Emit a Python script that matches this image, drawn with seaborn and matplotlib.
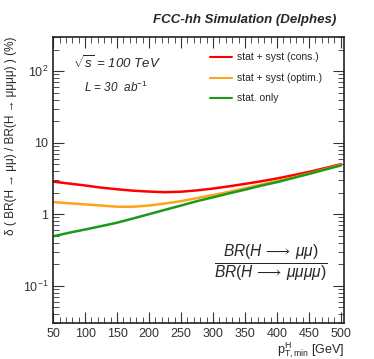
import matplotlib
matplotlib.use('Agg')
import matplotlib.pyplot as plt
import matplotlib.ticker as mticker
import seaborn as sns
import pandas as pd
import numpy as np

pt = [50, 75, 100, 125, 150, 175, 200, 225, 250, 275, 300, 325, 350, 375, 400, 425, 450, 475, 500]
cons = [2.85, 2.68, 2.52, 2.35, 2.23, 2.13, 2.07, 2.03, 2.06, 2.15, 2.28, 2.45, 2.65, 2.88, 3.15, 3.50, 3.90, 4.40, 5.00]
optim = [1.48, 1.42, 1.37, 1.32, 1.27, 1.27, 1.32, 1.41, 1.52, 1.68, 1.85, 2.05, 2.30, 2.58, 2.90, 3.25, 3.70, 4.25, 4.90]
stat = [0.49, 0.55, 0.61, 0.68, 0.76, 0.87, 1.00, 1.15, 1.32, 1.52, 1.72, 1.95, 2.20, 2.50, 2.80, 3.20, 3.65, 4.20, 4.80]
labels = ['stat + syst (cons.)', 'stat + syst (optim.)', 'stat. only']
colors = ['#ff0000', '#ffa31a', '#1a9a1a']

n = len(pt)
df = pd.DataFrame({'pt': pt * 3,
                   'val': cons + optim + stat,
                   'curve': [labels[0]] * n + [labels[1]] * n + [labels[2]] * n})

sns.set_style('ticks')
plt.rcParams['font.family'] = ['Liberation Sans', 'DejaVu Sans']
plt.rcParams['mathtext.fontset'] = 'custom'
plt.rcParams['mathtext.rm'] = 'Liberation Sans'
plt.rcParams['mathtext.it'] = 'Liberation Sans:italic'

fig = plt.figure(figsize=(3.74, 3.59), dpi=100)
ax = fig.add_axes([0.142, 0.100, 0.778, 0.797])

sns.lineplot(data=df, x='pt', y='val', hue='curve', palette=colors, lw=1.8, ax=ax, legend=False)
ax.set_yscale('log')
ax.set_xlim(50, 505)
ax.set_ylim(0.03, 300)

ax.xaxis.set_major_locator(mticker.MultipleLocator(50))
ax.xaxis.set_minor_locator(mticker.MultipleLocator(10))
ax.yaxis.set_major_locator(mticker.LogLocator(base=10, numticks=10))
ax.yaxis.set_minor_locator(mticker.LogLocator(base=10, subs=np.arange(2, 10), numticks=10))
ax.yaxis.set_major_formatter(mticker.FuncFormatter(
    lambda v, p: {0.1: r'$10^{-1}$', 1: '1', 10: '10', 100: r'$10^{2}$'}.get(round(v, 3), '')))
ax.yaxis.set_minor_formatter(mticker.NullFormatter())
ax.tick_params(which='both', direction='in', top=True, right=True, labelsize=9, colors='#333333')
ax.tick_params(which='major', length=8, width=0.8)
ax.tick_params(which='minor', length=4, width=0.6)
for s in ax.spines.values():
    s.set_linewidth(1.2)
    s.set_color('#222222')

ax.set_xlabel(r'p$_{\mathrm{T,min}}^{\mathrm{H}}$ [GeV]', fontsize=9, ha='right', x=1.0, labelpad=0.5)
ax.set_ylabel(r'δ ( BR(H → μμ) / BR(H → μμμμ) ) (%)', fontsize=8.5, ha='right', y=1.0)

fig.text(0.898, 0.945, 'FCC-hh Simulation (Delphes)', fontsize=9.5, fontweight='bold',
         fontstyle='italic', ha='right', va='center')
ax.text(0.07, 0.91, r'$\sqrt{s}$ = 100 TeV', transform=ax.transAxes, fontsize=9.5,
        fontstyle='italic', va='center')
ax.text(0.105, 0.825, r'L = 30  ab$^{-1}$', transform=ax.transAxes, fontsize=8.5,
        fontstyle='italic', va='center')

for i, (lab, c) in enumerate(zip(labels, colors)):
    yy = 0.93 - i * 0.072
    ax.plot([0.54, 0.615], [yy, yy], color=c, lw=1.5, transform=ax.transAxes)
    ax.text(0.632, yy, lab, transform=ax.transAxes, fontsize=7.5, va='center')

ax.text(0.748, 0.21, r'$\frac{BR(H\,\longrightarrow\,\mu\mu)}{BR(H\,\longrightarrow\,\mu\mu\mu\mu)}$',
        transform=ax.transAxes, fontsize=16, ha='center', va='center')

fig.savefig('out.png', dpi=100)
